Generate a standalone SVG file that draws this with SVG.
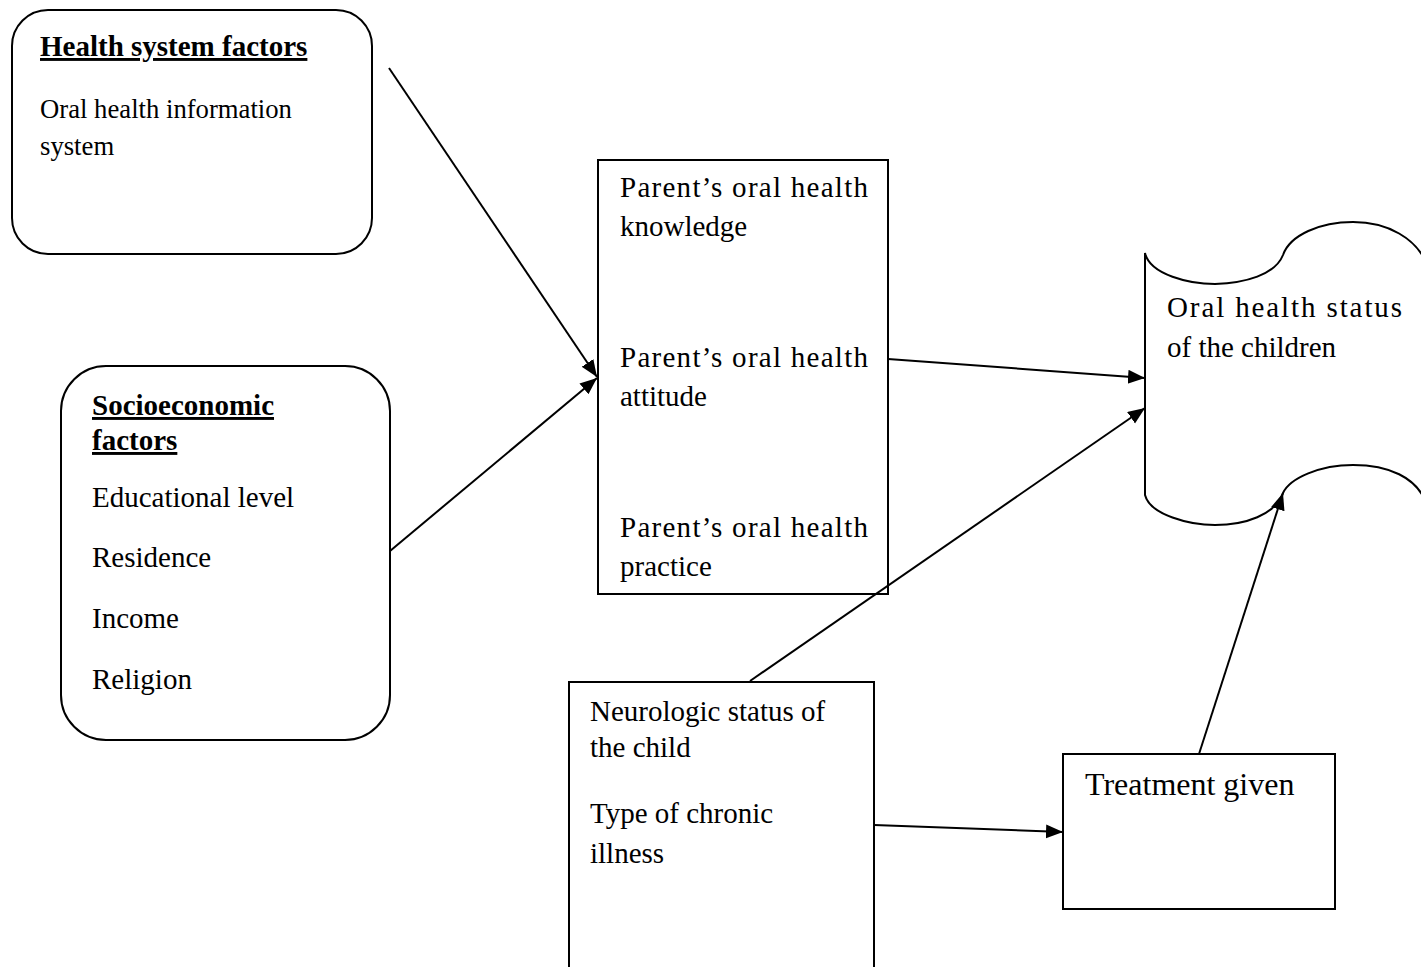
<svg xmlns="http://www.w3.org/2000/svg" width="1421" height="967" viewBox="0 0 1421 967">
<style>
.box{fill:#fff;stroke:#000;stroke-width:2}
.t{font-family:"Liberation Serif","Times New Roman",serif;font-size:29px;fill:#000}
.h{font-weight:bold}
.u{text-decoration:underline}
.s{font-size:26.7px}
.big{font-size:32px}
.c{stroke:#000;stroke-width:2;fill:none;marker-end:url(#ah)}
</style>
<defs>
<marker id="ah" markerUnits="userSpaceOnUse" markerWidth="20" markerHeight="16" refX="17" refY="7" orient="auto">
<path d="M0,0 L17,7 L0,14 Z" fill="#000"/>
</marker>
</defs>
<rect width="1421" height="967" fill="#fff"/>
<g id="health-system">
<rect class="box" x="12" y="10" width="360" height="244" rx="36"/>
<text class="t h u" x="40" y="56">Health system factors</text>
<text class="t s" x="40" y="118">Oral health information</text>
<text class="t s" x="40" y="155">system</text>
</g>
<g id="socioeconomic">
<rect class="box" x="61" y="366" width="329" height="374" rx="45"/>
<text class="t h u" x="92" y="415">Socioeconomic</text>
<text class="t h u" x="92" y="450">factors</text>
<text class="t" x="92" y="507">Educational level</text>
<text class="t" x="92" y="567">Residence</text>
<text class="t" x="92" y="628">Income</text>
<text class="t" x="92" y="689">Religion</text>
</g>
<g id="parent">
<rect class="box" x="598" y="160" width="290" height="434"/>
<text class="t" x="620" y="197" textLength="248" lengthAdjust="spacing">Parent’s oral health</text>
<text class="t" x="620" y="236">knowledge</text>
<text class="t" x="620" y="367" textLength="248" lengthAdjust="spacing">Parent’s oral health</text>
<text class="t" x="620" y="406">attitude</text>
<text class="t" x="620" y="537" textLength="248" lengthAdjust="spacing">Parent’s oral health</text>
<text class="t" x="620" y="576">practice</text>
</g>
<g id="oral-status">
<path class="box" d="M1145,253 C1150,275 1190,284 1215,284 C1245,283 1275,275 1283,255 C1290,235 1320,222 1353,222 C1390,222 1415,240 1425,260 L1425,500 C1415,478 1390,465 1353,465 C1320,465 1290,478 1283,493 C1275,515 1245,525 1215,525 C1190,525 1150,515 1145,495 Z"/>
<text class="t" x="1167" y="317" textLength="235" lengthAdjust="spacing">Oral health status</text>
<text class="t" x="1167" y="357">of the children</text>
</g>
<g id="neurologic">
<rect class="box" x="569" y="682" width="305" height="300"/>
<text class="t" x="590" y="721">Neurologic status of</text>
<text class="t" x="590" y="757">the child</text>
<text class="t" x="590" y="823">Type of chronic</text>
<text class="t" x="590" y="863">illness</text>
</g>
<g id="treatment">
<rect class="box" x="1063" y="754" width="272" height="155"/>
<text class="t big" x="1085" y="795">Treatment given</text>
</g>
<g id="connectors">
<line class="c" x1="389" y1="68" x2="597" y2="377"/>
<line class="c" x1="390" y1="551" x2="597" y2="378"/>
<line class="c" x1="888" y1="359" x2="1145" y2="378"/>
<line class="c" x1="750" y1="681" x2="1145" y2="408"/>
<line class="c" x1="874" y1="825" x2="1063" y2="832"/>
<line class="c" x1="1199" y1="754" x2="1283" y2="493"/>
</g>
</svg>
